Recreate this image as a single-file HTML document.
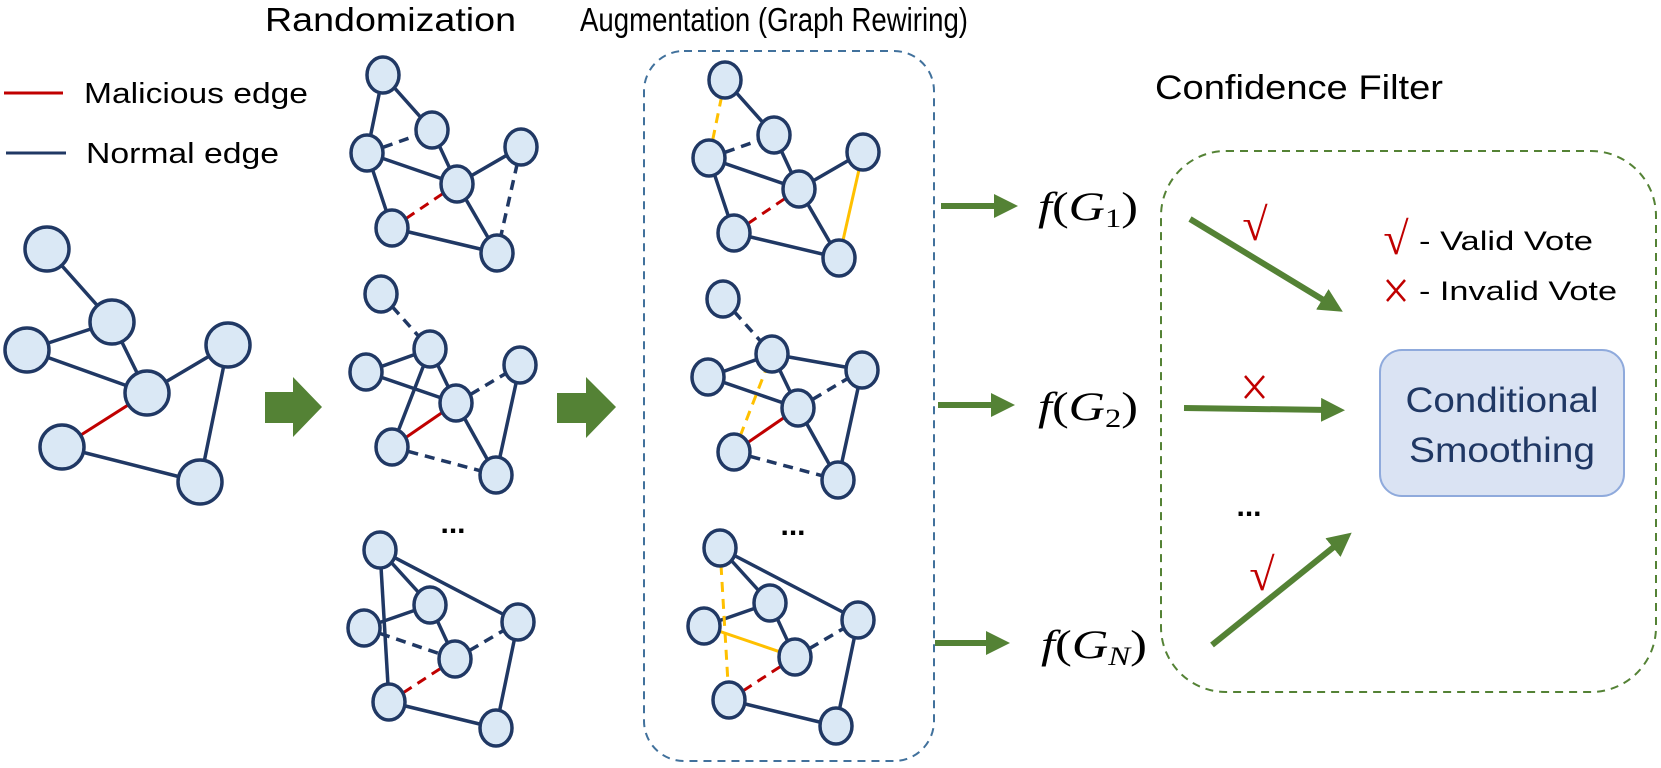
<!DOCTYPE html>
<html><head><meta charset="utf-8"><style>
html,body{margin:0;padding:0;background:#fff;}
svg{display:block;}
.s{font-family:"Liberation Sans",sans-serif;}
.m{font-family:"Liberation Serif",serif;}
</style></head><body>
<svg width="1661" height="768" viewBox="0 0 1661 768" xmlns="http://www.w3.org/2000/svg">
<defs>
<marker id="ah" markerWidth="4" markerHeight="4" refX="1.5" refY="2" orient="auto" markerUnits="strokeWidth">
<path d="M0,0 L4,2 L0,4 Z" fill="#548235"/></marker>
</defs>
<!-- titles -->
<text class="s" x="265" y="31" font-size="33" textLength="251" lengthAdjust="spacingAndGlyphs">Randomization</text>
<text class="s" x="580" y="31" font-size="33" textLength="388" lengthAdjust="spacingAndGlyphs">Augmentation (Graph Rewiring)</text>
<text class="s" x="1155" y="99" font-size="34" textLength="288" lengthAdjust="spacingAndGlyphs">Confidence Filter</text>
<!-- legend -->
<line x1="4" y1="93" x2="63" y2="93" stroke="#c00000" stroke-width="3"/>
<text class="s" x="84" y="103" font-size="29" textLength="224" lengthAdjust="spacingAndGlyphs">Malicious edge</text>
<line x1="6" y1="153" x2="66" y2="153" stroke="#203864" stroke-width="3"/>
<text class="s" x="86" y="163" font-size="29" textLength="193" lengthAdjust="spacingAndGlyphs">Normal edge</text>

<!-- boxes -->
<rect x="644" y="51" width="290" height="710" rx="40" fill="none" stroke="#41719c" stroke-width="2" stroke-dasharray="8 6"/>
<rect x="1161" y="151" width="495" height="541" rx="65" fill="none" stroke="#548235" stroke-width="2" stroke-dasharray="8 6"/>

<!-- big arrows -->
<path d="M265,392 L293,392 L293,377 L322,407 L293,437 L293,423 L265,423 Z" fill="#548235"/>
<path d="M557,393 L586,393 L586,377 L616,407 L586,438 L586,423 L557,423 Z" fill="#548235"/>

<!-- original graph -->
<g stroke="#203864" stroke-width="3.5">
<line x1="47" y1="249" x2="112" y2="322"/><line x1="112" y1="322" x2="27" y2="350"/>
<line x1="112" y1="322" x2="147" y2="393"/><line x1="27" y1="350" x2="147" y2="393"/>
<line x1="147" y1="393" x2="228" y2="345"/><line x1="228" y1="345" x2="200" y2="482"/>
<line x1="62" y1="447" x2="200" y2="482"/>
<line x1="62" y1="447" x2="147" y2="393" stroke="#c00000" stroke-width="3"/>
</g>
<g fill="#dae8f5" stroke="#203864" stroke-width="3.5">
<circle cx="47" cy="249" r="22"/><circle cx="112" cy="322" r="22"/><circle cx="27" cy="350" r="22"/>
<circle cx="147" cy="393" r="22"/><circle cx="228" cy="345" r="22"/><circle cx="62" cy="447" r="22"/><circle cx="200" cy="482" r="22"/>
</g>

<g id="small"></g>

<!-- dots -->
<text class="s" x="453" y="533" font-size="30" font-weight="bold" text-anchor="middle">...</text>
<text class="s" x="793" y="535" font-size="30" font-weight="bold" text-anchor="middle">...</text>
<text class="s" x="1249" y="516" font-size="30" font-weight="bold" text-anchor="middle">...</text>

<!-- small arrows -->
<g stroke="#548235" stroke-width="6" marker-end="url(#ah)">
<line x1="941" y1="206" x2="1003" y2="206"/>
<line x1="938" y1="405" x2="1000" y2="405"/>
<line x1="935" y1="643" x2="995" y2="643"/>
<line x1="1190" y1="219" x2="1330" y2="304"/>
<line x1="1184" y1="408" x2="1330" y2="410"/>
<line x1="1212" y1="645" x2="1340" y2="542"/>
</g>

<!-- math labels -->
<g class="m" font-size="40">
<text class="m" x="1038" y="220" textLength="100" lengthAdjust="spacingAndGlyphs"><tspan font-style="italic">f</tspan>(<tspan font-style="italic">G</tspan><tspan font-size="26" dy="7">1</tspan><tspan dy="-7">)</tspan></text>
<text class="m" x="1038" y="420" textLength="100" lengthAdjust="spacingAndGlyphs"><tspan font-style="italic">f</tspan>(<tspan font-style="italic">G</tspan><tspan font-size="26" dy="7">2</tspan><tspan dy="-7">)</tspan></text>
<text class="m" x="1041" y="658" textLength="106" lengthAdjust="spacingAndGlyphs"><tspan font-style="italic">f</tspan>(<tspan font-style="italic">G</tspan><tspan font-size="26" font-style="italic" dy="7">N</tspan><tspan dy="-7">)</tspan></text>
</g>

<!-- votes -->
<g fill="#c00000">
<text class="m" x="1255" y="240" font-size="46" text-anchor="middle">√</text>
<text class="m" x="1262" y="590" font-size="46" text-anchor="middle">√</text>
<text class="m" x="1396" y="254" font-size="46" text-anchor="middle">√</text>
</g>
<g stroke="#c00000" stroke-width="2.5">
<line x1="1245" y1="376" x2="1264" y2="398"/><line x1="1264" y1="376" x2="1245" y2="398"/>
<line x1="1387" y1="280" x2="1405" y2="301"/><line x1="1405" y1="280" x2="1387" y2="301"/>
</g>
<text class="s" x="1419" y="250" font-size="27" textLength="174" lengthAdjust="spacingAndGlyphs">- Valid Vote</text>
<text class="s" x="1419" y="300" font-size="27" textLength="198" lengthAdjust="spacingAndGlyphs">- Invalid Vote</text>

<rect x="1380" y="350" width="244" height="146" rx="22" fill="#dae3f3" stroke="#8faadc" stroke-width="2"/>
<text class="s" x="1502" y="412" font-size="35" fill="#203864" text-anchor="middle" textLength="193" lengthAdjust="spacingAndGlyphs">Conditional</text>
<text class="s" x="1502" y="462" font-size="35" fill="#203864" text-anchor="middle" textLength="186" lengthAdjust="spacingAndGlyphs">Smoothing</text>

<script>
(function(){
var NS="http://www.w3.org/2000/svg";
var g=document.getElementById("small");
var NAVY="#203864",RED="#c00000",YEL="#ffc000";
function shift(n,dx,dy){var o={};for(var k in n)o[k]=[n[k][0]+dx,n[k][1]+dy];return o;}
function draw(n,edges){
 edges.forEach(function(e){
  var a=n[e[0]],b=n[e[1]];var l=document.createElementNS(NS,"line");
  l.setAttribute("x1",a[0]);l.setAttribute("y1",a[1]);l.setAttribute("x2",b[0]);l.setAttribute("y2",b[1]);
  var c=e[2]=="r"?RED:(e[2]=="y"?YEL:NAVY);
  l.setAttribute("stroke",c);l.setAttribute("stroke-width",c==NAVY?3.5:3);
  if(e[3])l.setAttribute("stroke-dasharray","10 7");
  g.appendChild(l);
 });
 for(var k in n){var el=document.createElementNS(NS,"ellipse");
  el.setAttribute("cx",n[k][0]);el.setAttribute("cy",n[k][1]);el.setAttribute("rx",16);el.setAttribute("ry",18);
  el.setAttribute("fill","#dae8f5");el.setAttribute("stroke",NAVY);el.setAttribute("stroke-width",3.5);g.appendChild(el);}
}
var R1={A:[383,75],B:[432,130],C:[367,153],D:[457,184],E:[521,147],F:[392,228],G:[497,253]};
draw(R1,[["A","C","n",0],["A","B","n",0],["C","B","n",1],["C","D","n",0],["B","D","n",0],["D","E","n",0],["E","G","n",1],["D","G","n",0],["C","F","n",0],["F","D","r",1],["F","G","n",0]]);
draw(shift(R1,342,5),[["A","C","y",1],["A","B","n",0],["C","B","n",1],["C","D","n",0],["B","D","n",0],["D","E","n",0],["E","G","y",0],["D","G","n",0],["C","F","n",0],["F","D","r",1],["F","G","n",0]]);
var R2={A:[381,294],B:[430,349],C:[366,372],D:[456,403],E:[520,365],F:[392,447],G:[496,475]};
draw(R2,[["A","B","n",1],["B","C","n",0],["C","D","n",0],["B","D","n",0],["B","F","n",0],["D","E","n",1],["E","G","n",0],["D","G","n",0],["F","D","r",0],["F","G","n",1]]);
draw(shift(R2,342,5),[["A","B","n",1],["B","C","n",0],["C","D","n",0],["B","D","n",0],["B","E","n",0],["F","B","y",1],["D","E","n",1],["E","G","n",0],["D","G","n",0],["F","D","r",0],["F","G","n",1]]);
var R3={A:[380,550],B:[430,605],C:[364,628],D:[455,659],E:[518,622],F:[389,702],G:[496,728]};
var e3=[["A","B","n",0],["A","E","n",0],["B","C","n",0],["B","D","n",0],["D","E","n",1],["F","D","r",1],["F","G","n",0],["E","G","n",0]];
draw(R3,e3.concat([["A","F","n",0],["C","D","n",1]]));
draw(shift(R3,340,-2),e3.concat([["A","F","y",1],["C","D","y",0]]));
})();
</script>
</svg>
</body></html>
